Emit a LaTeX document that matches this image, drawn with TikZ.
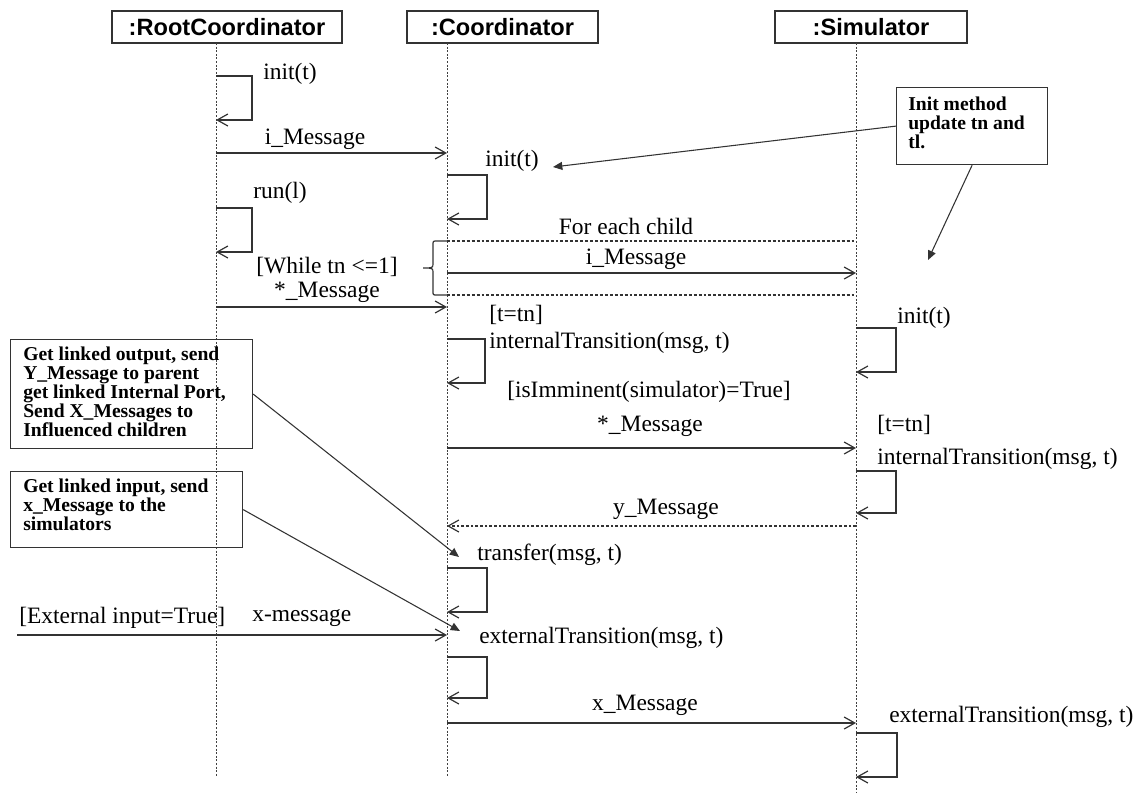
\documentclass[tikz,border=0pt]{standalone}
\usepackage{fontspec}
\setmainfont{Liberation Serif}
\newfontfamily\headfont{Liberation Sans}
\usetikzlibrary{arrows.meta}
\begin{document}
\begin{tikzpicture}[x=0.75pt,y=-0.75pt,
  lifeline/.style={draw=black!75, line width=0.6pt, dash pattern=on 1.5pt off 1.2pt},
  head/.style={draw=black!80, line width=1pt, minimum height=24pt, inner sep=0pt,
    font=\headfont\bfseries\fontsize{17.7}{20}\selectfont},
  msg/.style={draw=black!80, line width=0.9pt,
    -{Straight Barb[length=8pt,width=9pt,line width=0.9pt]}},
  reply/.style={msg, dash pattern=on 2pt off 1.5pt},
  frameline/.style={draw=black!80, line width=0.8pt, dash pattern=on 2.2pt off 1.5pt},
  lbl/.style={font=\fontsize{17.6}{20}\selectfont, inner sep=0pt},
  notebox/.style={draw=black!80, line width=0.9pt, inner sep=0pt, anchor=north west},
  notetext/.style={font=\fontsize{14.7}{14.25}\selectfont\bfseries, align=left,
    inner sep=0pt, anchor=north west},
  notelink/.style={draw=black!80, line width=0.8pt, -{Triangle[length=7pt,width=6pt]}}
]
\useasboundingbox (0,0) rectangle (1145,794);

% ---- participants ----
\node[head, minimum width=172.5pt] (root) at (227,27) {:RootCoordinator};
\node[head, minimum width=143.25pt] (coord) at (502.5,27) {:Coordinator};
\node[head, minimum width=144pt] (sim) at (871,27) {:Simulator};

% ---- lifelines ----
\coordinate (rootTop) at (216,43);   \coordinate (rootEnd) at (216,776);
\coordinate (coordTop) at (447,43);  \coordinate (coordEnd) at (447,776);
\coordinate (simTop) at (856,43);    \coordinate (simEnd) at (856,792);
\draw[lifeline] (rootTop) -- (rootEnd);
\draw[lifeline] (coordTop) -- (coordEnd);
\draw[lifeline] (simTop) -- (simEnd);

% ---- self calls ----
\coordinate (rInitA) at (216,76);  \coordinate (rInitB) at (216,120);
\draw[msg] (rInitA) -- ++(36,0) |- (rInitB);
\node[lbl, anchor=west] (rInitL) at (263,74) {init(t)};

\coordinate (cInitA) at (447,175); \coordinate (cInitB) at (447,219);
\draw[msg] (cInitA) -- ++(40,0) |- (cInitB);
\node[lbl, anchor=west] (cInitL) at (485,161) {init(t)};

\coordinate (rRunA) at (216,208);  \coordinate (rRunB) at (216,252);
\draw[msg] (rRunA) -- ++(36,0) |- (rRunB);
\node[lbl, anchor=west] (rRunL) at (253,193) {run(l)};

\coordinate (cIntA) at (447,339);  \coordinate (cIntB) at (447,383);
\draw[msg] (cIntA) -- ++(38,0) |- (cIntB);
\node[lbl, anchor=west] (cIntG) at (489,315) {[t=tn]};
\node[lbl, anchor=west] (cIntL) at (489,343) {internalTransition(msg, t)};

\coordinate (sInitA) at (856,328); \coordinate (sInitB) at (856,372);
\draw[msg] (sInitA) -- ++(40,0) |- (sInitB);
\node[lbl, anchor=west] (sInitL) at (897,318) {init(t)};

\coordinate (sIntA) at (856,471);  \coordinate (sIntB) at (856,513);
\draw[msg] (sIntA) -- ++(40,0) |- (sIntB);
\node[lbl, anchor=west] (sIntG) at (877,425) {[t=tn]};
\node[lbl, anchor=west] (sIntL) at (877,459) {internalTransition(msg, t)};

\coordinate (cTrA) at (447,568);   \coordinate (cTrB) at (447,612);
\draw[msg] (cTrA) -- ++(40,0) |- (cTrB);
\node[lbl, anchor=west] (cTrL) at (477,555) {transfer(msg, t)};

\coordinate (cExA) at (447,657);   \coordinate (cExB) at (447,698);
\draw[msg] (cExA) -- ++(40,0) |- (cExB);
\node[lbl, anchor=west] (cExL) at (479,638) {externalTransition(msg, t)};

\coordinate (sExA) at (856,733);   \coordinate (sExB) at (856,777);
\draw[msg] (sExA) -- ++(41,0) |- (sExB);
\node[lbl, anchor=west] (sExL) at (889,717) {externalTransition(msg, t)};

% ---- messages ----
\coordinate (m1a) at (216,153); \coordinate (m1b) at (447,153);
\draw[msg] (m1a) -- (m1b);
\node[lbl] (m1L) at (315,139) {i\_Message};

\coordinate (m2a) at (216,307); \coordinate (m2b) at (447,307);
\draw[msg] (m2a) -- (m2b);
\node[lbl] (m2G) at (327,267) {[While tn <=1]};
\node[lbl] (m2L) at (327,292) {*\_Message};

% loop frame over the children
\coordinate (fTopA) at (447,241); \coordinate (fTopB) at (856,241);
\coordinate (fBotA) at (447,295); \coordinate (fBotB) at (856,295);
\draw[frameline] (fTopA) -- (fTopB);
\draw[frameline] (fBotA) -- (fBotB);
\draw[draw=black!80, line width=0.9pt] (fTopA) -- (437,241) .. controls (433,241) .. (433,245)
  -- (433,263) .. controls (433,268) .. (423,268) .. controls (433,268) .. (433,273)
  -- (433,291) .. controls (433,295) .. (437,295) -- (fBotA);
\node[lbl] (fL) at (626,226) {For each child};

\coordinate (m3a) at (447,273); \coordinate (m3b) at (856,273);
\draw[msg] (m3a) -- (m3b);
\node[lbl] (m3L) at (636,259) {i\_Message};

\coordinate (m4a) at (447,448); \coordinate (m4b) at (856,448);
\draw[msg] (m4a) -- (m4b);
\node[lbl] (m4G) at (649,392) {[isImminent(simulator)=True]};
\node[lbl] (m4L) at (650,426) {*\_Message};

\coordinate (m5a) at (856,526); \coordinate (m5b) at (447,526);
\draw[reply] (m5a) -- (m5b);
\node[lbl] (m5L) at (666,509) {y\_Message};

\coordinate (m6a) at (17,635); \coordinate (m6b) at (447,635);
\draw[msg] (m6a) -- (m6b);
\node[lbl, anchor=west] (m6G) at (19,618) {[External input=True]};
\node[lbl, anchor=west] (m6L) at (252,618) {x-message};

\coordinate (m7a) at (447,723); \coordinate (m7b) at (856,723);
\draw[msg] (m7a) -- (m7b);
\node[lbl] (m7L) at (645,705) {x\_Message};

% ---- notes ----
\node[notebox, minimum width=113.25pt, minimum height=57.75pt] (initNote) at (896,87) {};
\node[notetext] (initNoteT) at (908,97) {Init method\\update tn and\\tl.};
\coordinate (initTipA) at (553,167);
\coordinate (initTipB) at (928,260);
\draw[notelink] (initNote.west) -- (initTipA);
\draw[notelink] (initNote.south) -- (initTipB);

\node[notebox, minimum width=181.5pt, minimum height=81.75pt] (outNote) at (10,339) {};
\node[notetext] (outNoteT) at (23,347) {Get linked output, send\\Y\_Message to parent\\get linked Internal Port,\\Send X\_Messages to\\Influenced children};
\coordinate (outTip) at (459,557);
\draw[notelink] (outNote.east) -- (outTip);

\node[notebox, minimum width=174pt, minimum height=57pt] (inNote) at (10,471) {};
\node[notetext] (inNoteT) at (23,479) {Get linked input, send\\x\_Message to the\\simulators};
\coordinate (inTip) at (460,631);
\draw[notelink] (inNote.east) -- (inTip);
\end{tikzpicture}
\end{document}
